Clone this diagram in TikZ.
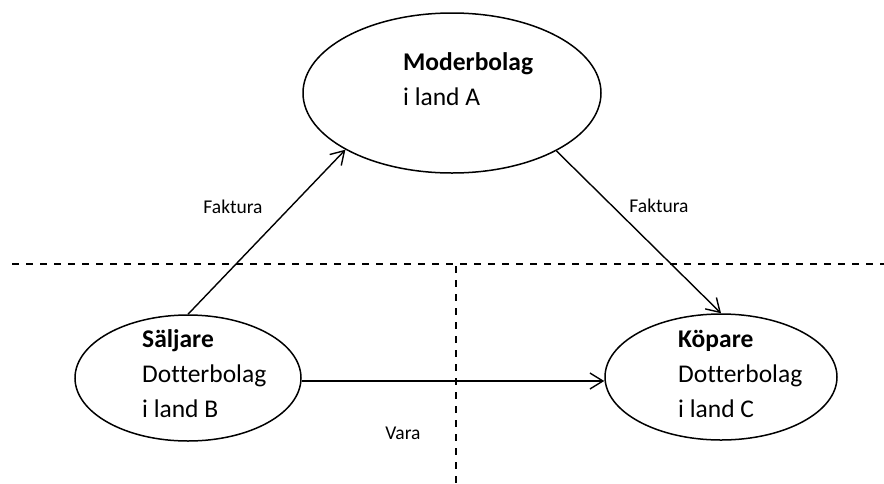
\documentclass[tikz,border=0pt]{standalone}
\usepackage{fontspec}
\setmainfont{Carlito}[Ligatures=NoCommon]
\usetikzlibrary{shapes.geometric,arrows.meta}
\begin{document}
\begin{tikzpicture}[x=1pt,y=-1pt,
  oval/.style={draw,ellipse,line width=1.5pt,inner sep=0pt},
  arr/.style={line width=1.4pt,-{Straight Barb[length=13pt,width=16pt,line width=1.4pt]}},
  sep/.style={line width=1.3pt,dash pattern=on 7pt off 7pt},
  big/.style={font=\fontsize{25.5}{30}\selectfont,anchor=base west,inner sep=0pt},
  bigb/.style={font=\fontsize{25.5}{30}\selectfont\bfseries,anchor=base west,inner sep=0pt},
  lab/.style={font=\fontsize{19.5}{23}\selectfont,inner sep=0pt}]
\useasboundingbox (0,0) rectangle (884,483);
% separators
\coordinate (hl) at (12,264);
\coordinate (hr) at (884,264);
\coordinate (vt) at (456,266);
\coordinate (vb) at (456,483);
\draw[sep] (hl) -- (hr);
\draw[sep] (vt) -- (vb);
% ellipses
\node[oval,minimum width=298pt,minimum height=160pt] (mo) at (452,93) {};
\node[oval,minimum width=226pt,minimum height=126pt] (sa) at (188,378) {};
\node[oval,minimum width=232pt,minimum height=126pt] (ko) at (721,377) {};
% texts
\node[bigb] (mo1) at (403,70) {Moderbolag};
\node[big] (mo2) at (403,105) {i land A};
\node[bigb] (sa1) at (142,347) {Säljare};
\node[big] (sa2) at (142,382) {Dotterbolag};
\node[big] (sa3) at (142,417) {i land B};
\node[bigb] (ko1) at (678,347) {Köpare};
\node[big] (ko2) at (678,382) {Dotterbolag};
\node[big] (ko3) at (678,417) {i land C};
% arrows
\draw[arr] (sa.north) -- (mo.208);
\draw[arr] (mo.331.5) -- (ko.north);
\coordinate (vs) at (sa.east |- 0,381);
\coordinate (ve) at (ko.west |- 0,381);
\draw[arr] (vs) -- (ve);
% labels
\node[lab] (f1) at (233,207) {Faktura};
\node[lab] (f2) at (659,206) {Faktura};
\node[lab] (va) at (403,433) {Vara};
\end{tikzpicture}
\end{document}
